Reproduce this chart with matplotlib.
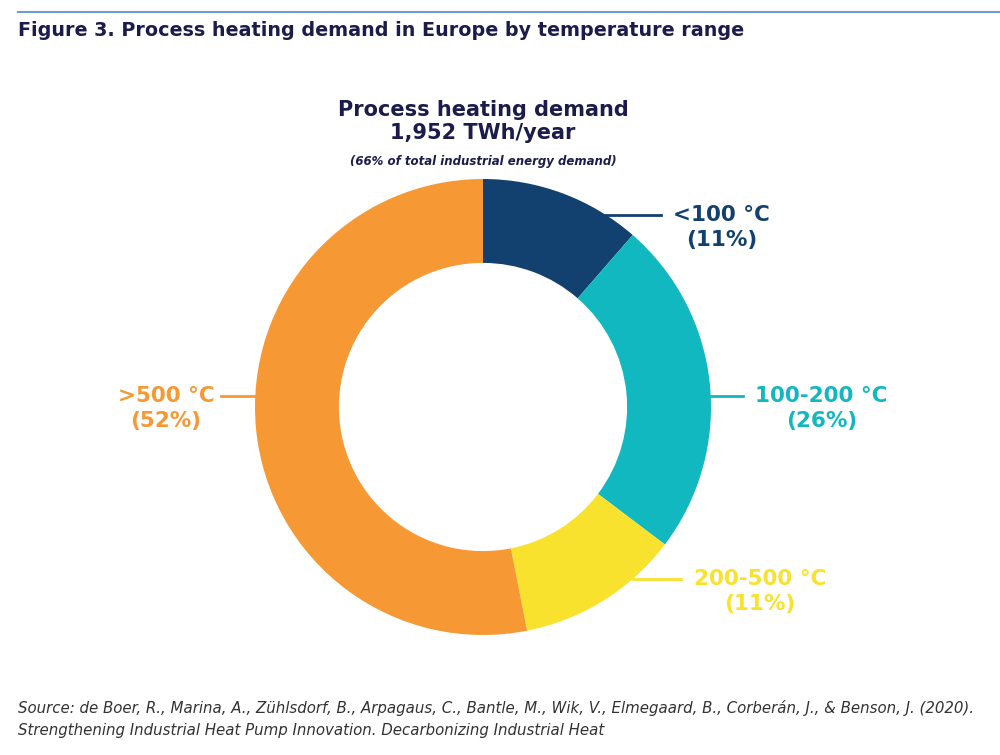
#!/usr/bin/env python3
''' Process heating demand in Europe by temperature range (donut)
'''

import numpy as np
import matplotlib
matplotlib.use('Agg')
from matplotlib import pyplot

#
# data
#

ranges = ['<100 °C', '100-200 °C', '200-500 °C', '>500 °C']
shares = [11, 26, 11, 52]                # printed labels, %
wedge_sizes = [11.4, 23.9, 11.6, 53.1]   # wedge sizes as drawn, %
colours = ['#12406f', '#12b8bf', '#f8e22d', '#f69833']

# label placement (data units of the donut axes, radius = 1)
label_y = [0.844, 0.048, -0.755, 0.048]
line_end_x = [0.78, 1.14, 0.87, -1.15]
text_x = [1.045, 1.485, 1.215, -1.39]

navy = '#1b1c4b'

#
# figure
#

fig = pyplot.figure(figsize=(10, 7.55), dpi=100)

def px(x, y):
    return x / 1000, 1 - y / 755

# top rule
fig.add_artist(matplotlib.lines.Line2D([0.018, 1.0], [1 - 12 / 755] * 2,
    color='#6f9ccd', lw=1.5))

x, y = px(18, 30)
fig.text(x, y, 'Figure 3. Process heating demand in Europe by temperature range',
    fontsize=13.8, fontweight='bold', color=navy, va='center', ha='left')

# donut axes: centre (483, 407) px, radius 228 px
R = 228
ax = fig.add_axes([(483 - R) / 1000, (755 - 407 - R) / 755,
    2 * R / 1000, 2 * R / 755])
ax.pie(wedge_sizes, colors=colours, startangle=90, counterclock=False,
    radius=1, wedgeprops=dict(width=0.368, linewidth=0))
ax.set_xlim(-1, 1)
ax.set_ylim(-1, 1)
ax.set_aspect('equal')
ax.axis('off')

for name, share, c, ly, lx, tx in zip(ranges, shares, colours,
        label_y, line_end_x, text_x):
    edge = np.sqrt(1 - ly ** 2) * np.sign(lx)
    ax.plot([edge, lx], [ly, ly], color=c, lw=2, clip_on=False)
    ax.text(tx, ly, name, color=c, fontsize=15.5, fontweight='bold',
        ha='center', va='center', clip_on=False)
    ax.text(tx, ly - 25 / R, '({}%)'.format(share), color=c, fontsize=15.5,
        fontweight='bold', ha='center', va='center', clip_on=False)

# centre heading
x, y = px(483, 110)
fig.text(x, y, 'Process heating demand', fontsize=15, fontweight='bold',
    color=navy, ha='center', va='center')
x, y = px(483, 133)
fig.text(x, y, '1,952 TWh/year', fontsize=15, fontweight='bold',
    color=navy, ha='center', va='center')
x, y = px(483, 161)
fig.text(x, y, '(66% of total industrial energy demand)', fontsize=8.5,
    fontweight='bold', fontstyle='italic', color=navy, ha='center', va='center')

# source
x, y = px(18, 708)
fig.text(x, y, 'Source: de Boer, R., Marina, A., Zühlsdorf, B., Arpagaus, C., '
    'Bantle, M., Wik, V., Elmegaard, B., Corberán, J., & Benson, J. (2020).',
    fontsize=10.8, fontstyle='italic', color='#333333', ha='left', va='center')
x, y = px(18, 731)
fig.text(x, y, 'Strengthening Industrial Heat Pump Innovation. '
    'Decarbonizing Industrial Heat',
    fontsize=10.8, fontstyle='italic', color='#333333', ha='left', va='center')

fig.savefig('out.png', dpi=100)
